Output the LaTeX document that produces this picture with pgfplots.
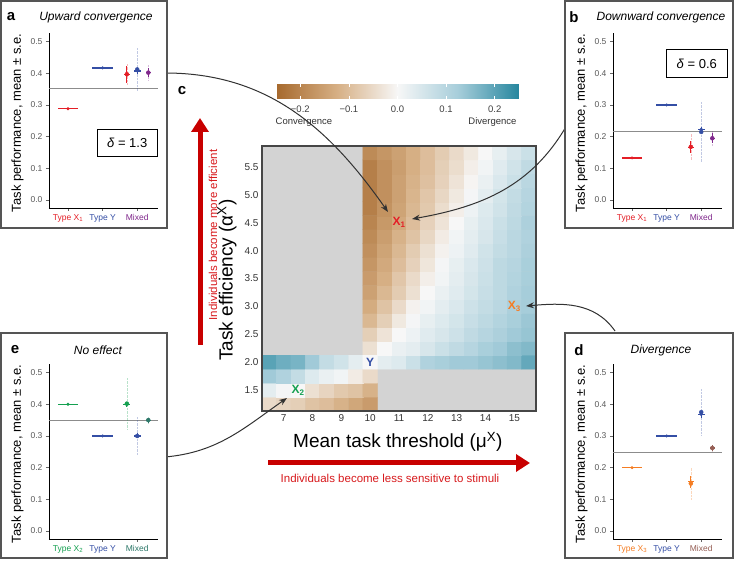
\documentclass[border=0pt]{standalone}
\usepackage{pgfplots}
\pgfplotsset{compat=1.18}
\usepackage{fontspec}
\setmainfont{Liberation Sans}
\usetikzlibrary{arrows.meta}

\definecolor{cX1}{RGB}{228,30,38}
\definecolor{cY}{RGB}{52,78,165}
\definecolor{cMa}{RGB}{128,40,140}
\definecolor{cX2}{RGB}{20,160,80}
\definecolor{cMe}{RGB}{45,120,105}
\definecolor{cX3}{RGB}{245,125,35}
\definecolor{cMd}{RGB}{150,95,85}
\definecolor{arrowred}{RGB}{200,0,0}
\definecolor{textred}{RGB}{215,25,28}
\definecolor{boxgray}{RGB}{85,85,85}
\definecolor{nagray}{RGB}{211,211,211}
\definecolor{framegray}{RGB}{70,70,70}
\definecolor{curvegray}{RGB}{50,50,50}

\newcommand{\fsz}[1]{\fontsize{#1}{#1}\selectfont}

\pgfplotsset{
  /pgf/number format/assume math mode=true,
  side/.style={
    scale only axis, width=109pt, height=175pt,
    xmin=0.45, xmax=3.6, ymin=-0.025, ymax=0.527,
    axis x line*=bottom, axis y line*=left,
    axis line style={line width=0.7pt, black},
    xtick={1,2,3}, ytick={0,0.1,0.2,0.3,0.4,0.5},
    yticklabel style={/pgf/number format/.cd, fixed, fixed zerofill, precision=1},
    ticklabel style={font=\fsz{8.5}, text=black!65},
    tick style={line width=0.6pt, black!60}, tick align=outside, major tick length=3pt,
    ylabel={Task performance, mean ± s.e.},
    ylabel style={font=\fsz{13}, at={(axis description cs:-0.29,0.486)}, anchor=center},
    clip=false,
  },
  refline/.style={black!45, line width=0.6pt},
  hbar/.style={only marks, mark=*, mark size=1.3pt,
    error bars/x dir=both, error bars/x explicit, error bars/error mark=none,
    error bars/error bar style={line width=1.4pt}},
  cloud/.style={only marks, mark=none,
    error bars/y dir=both, error bars/y explicit, error bars/error mark=none,
    error bars/error bar style={line width=0.7pt, opacity=0.3, dash pattern=on 0.7pt off 0.7pt}},
  mixpt/.style={only marks, mark=*, mark size=1.2pt,
    error bars/x dir=both, error bars/y dir=both, error bars/x explicit, error bars/y explicit,
    error bars/error mark=none, error bars/error bar style={line width=1.1pt}},
}

\begin{document}
\begin{tikzpicture}[x=1pt,y=1pt]
\useasboundingbox (0,0) rectangle (734,562);

% ---------------- Heatmap (c) ----------------
\begin{axis}[at={(262pt,151pt)}, anchor=south west, scale only axis, width=274pt, height=265pt,
  xmin=6.25, xmax=15.75, ymin=1.125, ymax=5.875,
  axis background/.style={fill=nagray},
  axis on top, axis line style={line width=1.6pt, draw=framegray},
  xtick={7,8,9,10,11,12,13,14,15}, ytick={1.5,2,2.5,3,3.5,4,4.5,5,5.5},
  tick style={draw=none},
  yticklabel style={/pgf/number format/.cd, fixed, fixed zerofill, precision=1},
  ticklabel style={font=\fsz{10}, text=black!80},
  xlabel={Mean task threshold (μ\textsuperscript{X})},
  ylabel={Task efficiency (α\textsuperscript{X})},
  label style={font=\fsz{19}},
  xlabel style={at={(axis description cs:0.496,-0.117)}, anchor=center},
  ylabel style={at={(axis description cs:-0.128,0.494)}, anchor=center},
  colormap={brbg}{rgb255=(166,105,45) rgb255=(214,175,132) rgb255=(247,247,247) rgb255=(166,205,218) rgb255=(38,134,158)},
  point meta min=-0.25, point meta max=0.25,
  colorbar horizontal,
  colorbar style={at={(parent axis.north west)}, anchor=south west, xshift=14pt, yshift=56pt,
    scale only axis, width=243pt, height=15pt,
    xtick={-0.2,-0.1,0,0.1,0.2}, xticklabels={−0.2,−0.1,0.0,0.1,0.2},
    axis line style={draw=none}, axis on top,
    tick align=inside, major tick length=3pt, xtick pos=both, xticklabel pos=lower,
    xtick style={draw=white, line width=0.8pt},
    xticklabel style={font=\fsz{9.5}, text=black!75, yshift=-4pt}},
]
\addplot[matrix plot*, mesh/cols=12, point meta=explicit] coordinates {
(10,2)[0] (10.5,2)[0.03] (11,2)[0.04] (11.5,2)[0.07] (12,2)[0.11] (12.5,2)[0.12] (13,2)[0.13] (13.5,2)[0.13] (14,2)[0.14] (14.5,2)[0.15] (15,2)[0.16] (15.5,2)[0.19]
(10,2.25)[-0.04] (10.5,2.25)[0] (11,2.25)[0.02] (11.5,2.25)[0.03] (12,2.25)[0.05] (12.5,2.25)[0.07] (13,2.25)[0.085] (13.5,2.25)[0.10] (14,2.25)[0.12] (14.5,2.25)[0.13] (15,2.25)[0.15] (15.5,2.25)[0.16]
(10,2.5)[-0.07] (10.5,2.5)[-0.035] (11,2.5)[0] (11.5,2.5)[0.015] (12,2.5)[0.035] (12.5,2.5)[0.05] (13,2.5)[0.065] (13.5,2.5)[0.085] (14,2.5)[0.10] (14.5,2.5)[0.115] (15,2.5)[0.13] (15.5,2.5)[0.14]
(10,2.75)[-0.11] (10.5,2.75)[-0.07] (11,2.75)[-0.025] (11.5,2.75)[0.005] (12,2.75)[0.025] (12.5,2.75)[0.04] (13,2.75)[0.055] (13.5,2.75)[0.075] (14,2.75)[0.09] (14.5,2.75)[0.105] (15,2.75)[0.12] (15.5,2.75)[0.135]
(10,3)[-0.13] (10.5,3)[-0.09] (11,3)[-0.05] (11.5,3)[-0.01] (12,3)[0.01] (12.5,3)[0.03] (13,3)[0.045] (13.5,3)[0.065] (14,3)[0.08] (14.5,3)[0.095] (15,3)[0.115] (15.5,3)[0.125]
(10,3.25)[-0.15] (10.5,3.25)[-0.11] (11,3.25)[-0.075] (11.5,3.25)[-0.04] (12,3.25)[0] (12.5,3.25)[0.02] (13,3.25)[0.035] (13.5,3.25)[0.055] (14,3.25)[0.075] (14.5,3.25)[0.09] (15,3.25)[0.11] (15.5,3.25)[0.125]
(10,3.5)[-0.16] (10.5,3.5)[-0.125] (11,3.5)[-0.085] (11.5,3.5)[-0.05] (12,3.5)[-0.015] (12.5,3.5)[0.01] (13,3.5)[0.03] (13.5,3.5)[0.05] (14,3.5)[0.07] (14.5,3.5)[0.09] (15,3.5)[0.105] (15.5,3.5)[0.12]
(10,3.75)[-0.17] (10.5,3.75)[-0.135] (11,3.75)[-0.10] (11.5,3.75)[-0.065] (12,3.75)[-0.03] (12.5,3.75)[0.005] (13,3.75)[0.025] (13.5,3.75)[0.045] (14,3.75)[0.065] (14.5,3.75)[0.09] (15,3.75)[0.10] (15.5,3.75)[0.12]
(10,4)[-0.18] (10.5,4)[-0.145] (11,4)[-0.11] (11.5,4)[-0.075] (12,4)[-0.04] (12.5,4)[-0.01] (13,4)[0.015] (13.5,4)[0.035] (14,4)[0.06] (14.5,4)[0.08] (15,4)[0.095] (15.5,4)[0.115]
(10,4.25)[-0.19] (10.5,4.25)[-0.155] (11,4.25)[-0.12] (11.5,4.25)[-0.09] (12,4.25)[-0.055] (12.5,4.25)[-0.02] (13,4.25)[0.01] (13.5,4.25)[0.03] (14,4.25)[0.05] (14.5,4.25)[0.075] (15,4.25)[0.095] (15.5,4.25)[0.11]
(10,4.5)[-0.20] (10.5,4.5)[-0.165] (11,4.5)[-0.135] (11.5,4.5)[-0.10] (12,4.5)[-0.065] (12.5,4.5)[-0.035] (13,4.5)[0] (13.5,4.5)[0.025] (14,4.5)[0.045] (14.5,4.5)[0.07] (15,4.5)[0.09] (15.5,4.5)[0.115]
(10,4.75)[-0.21] (10.5,4.75)[-0.175] (11,4.75)[-0.145] (11.5,4.75)[-0.11] (12,4.75)[-0.08] (12.5,4.75)[-0.045] (13,4.75)[-0.015] (13.5,4.75)[0.015] (14,4.75)[0.04] (14.5,4.75)[0.06] (15,4.75)[0.085] (15.5,4.75)[0.105]
(10,5)[-0.21] (10.5,5)[-0.18] (11,5)[-0.15] (11.5,5)[-0.115] (12,5)[-0.085] (12.5,5)[-0.055] (13,5)[-0.025] (13.5,5)[0.005] (14,5)[0.03] (14.5,5)[0.055] (15,5)[0.08] (15.5,5)[0.10]
(10,5.25)[-0.21] (10.5,5.25)[-0.18] (11,5.25)[-0.15] (11.5,5.25)[-0.12] (12,5.25)[-0.095] (12.5,5.25)[-0.065] (13,5.25)[-0.035] (13.5,5.25)[-0.005] (14,5.25)[0.02] (14.5,5.25)[0.045] (15,5.25)[0.07] (15.5,5.25)[0.095]
(10,5.5)[-0.21] (10.5,5.5)[-0.18] (11,5.5)[-0.155] (11.5,5.5)[-0.125] (12,5.5)[-0.10] (12.5,5.5)[-0.07] (13,5.5)[-0.045] (13.5,5.5)[-0.015] (14,5.5)[0.01] (14.5,5.5)[0.035] (15,5.5)[0.06] (15.5,5.5)[0.085]
(10,5.75)[-0.19] (10.5,5.75)[-0.17] (11,5.75)[-0.15] (11.5,5.75)[-0.125] (12,5.75)[-0.10] (12.5,5.75)[-0.075] (13,5.75)[-0.05] (13.5,5.75)[-0.025] (14,5.75)[0] (14.5,5.75)[0.025] (15,5.75)[0.05] (15.5,5.75)[0.07]
};
\addplot[matrix plot*, mesh/cols=8, point meta=explicit] coordinates {
(6.5,1.25)[-0.05] (7,1.25)[-0.06] (7.5,1.25)[-0.07] (8,1.25)[-0.09] (8.5,1.25)[-0.10] (9,1.25)[-0.12] (9.5,1.25)[-0.14] (10,1.25)[-0.16]
(6.5,1.5)[0.03] (7,1.5)[0.005] (7.5,1.5)[0] (8,1.5)[-0.04] (8.5,1.5)[-0.06] (9,1.5)[-0.08] (9.5,1.5)[-0.09] (10,1.5)[-0.12]
(6.5,1.75)[0.13] (7,1.75)[0.11] (7.5,1.75)[0.08] (8,1.75)[0.04] (8.5,1.75)[0.02] (9,1.75)[0.01] (9.5,1.75)[-0.02] (10,1.75)[-0.05]
(6.5,2)[0.20] (7,2)[0.18] (7.5,2)[0.17] (8,2)[0.13] (8.5,2)[0.08] (9,2)[0.06] (9.5,2)[0.03] (10,2)[0]
};
\node[font=\fsz{12}\bfseries, text=cX1] at (axis cs:11,4.5) {X\textsubscript{1}};
\node[font=\fsz{12}\bfseries, text=cX2] at (axis cs:7.5,1.5) {X\textsubscript{2}};
\node[font=\fsz{12}\bfseries, text=cX3] at (axis cs:15,3) {X\textsubscript{3}};
\node[font=\fsz{12}\bfseries, text=cY] at (axis cs:10,2) {Y};
\end{axis}

\node[font=\fsz{9.5}, text=black!80] at (304,440) {Convergence};
\node[font=\fsz{9.5}, text=black!80, anchor=east] at (520,440) {Divergence};
\node[font=\fsz{15}\bfseries] at (182,471) {c};

% curved arrows (after heatmap, boxes cover their starts)
\draw[curvegray, line width=1pt, -{Stealth[length=8pt, width=6pt]}] (165,489) to[out=0, in=125] (388,350);
\draw[curvegray, line width=1pt, -{Stealth[length=8pt, width=6pt]}] (567,437) to[out=240, in=10] (412,343);
\draw[curvegray, line width=1pt, -{Stealth[length=8pt, width=6pt]}] (615,231) to[out=125, in=5] (526,256);
\draw[curvegray, line width=1pt, -{Stealth[length=8pt, width=6pt]}] (165,105) to[out=5, in=215] (287,164);

% red arrows
\draw[arrowred, line width=5pt, -{Triangle[length=14pt, width=17pt]}] (200,217) -- (200,444);
\node[rotate=90, text=textred, font=\fsz{11.5}] at (213,327) {Individuals become more efficient};
\draw[arrowred, line width=5pt, -{Triangle[length=14pt, width=17pt]}] (268,99) -- (530,99);
\node[text=textred, font=\fsz{11.5}] at (390,84) {Individuals become less sensitive to stimuli};

% ---------------- Panel a ----------------
\draw[boxgray, line width=1.3pt, fill=white] (1,334) rectangle (167,561);
\node[font=\fsz{15}\bfseries] at (11,545) {a};
\node[font=\fsz{12}\itshape] at (96,545) {Upward convergence};
\begin{axis}[side, at={(49pt,354pt)}, anchor=south west,
  xticklabels={{\color{cX1}Type X\textsubscript{1}},{\color{cY}Type Y},{\color{cMa}Mixed}}]
\addplot[refline] coordinates {(0.45,0.352) (3.6,0.352)};
\addplot[cX1, hbar] coordinates {(1,0.288) +- (0.3,0)};
\addplot[cY, hbar] coordinates {(2,0.417) +- (0.3,0)};
\addplot[cX1, cloud] coordinates {(2.7,0.397) +- (0,0.035)};
\addplot[cY, cloud] coordinates {(3,0.412) +- (0,0.068)};
\addplot[cMa, cloud] coordinates {(3.32,0.402) +- (0,0.025)};
\addplot[cX1, mixpt] coordinates {(2.7,0.395) +- (0.08,0.027)};
\addplot[cY, mixpt] coordinates {(3,0.407) +- (0.1,0.01)};
\addplot[cMa, mixpt] coordinates {(3.32,0.402) +- (0.08,0.015)};
\node[draw=black, line width=0.9pt, minimum width=60pt, minimum height=27pt, font=\fsz{13}] at (axis cs:2.71,0.18) {\textit{δ} = 1.3};
\end{axis}

% ---------------- Panel b ----------------
\draw[boxgray, line width=1.3pt, fill=white] (565,334) rectangle (733,561);
\node[font=\fsz{15}\bfseries] at (574,545) {b};
\node[font=\fsz{12}\itshape] at (661,545) {Downward convergence};
\begin{axis}[side, at={(613pt,354pt)}, anchor=south west,
  xticklabels={{\color{cX1}Type X\textsubscript{1}},{\color{cY}Type Y},{\color{cMa}Mixed}}]
\addplot[refline] coordinates {(0.45,0.216) (3.6,0.216)};
\addplot[cX1, hbar] coordinates {(1,0.133) +- (0.3,0)};
\addplot[cY, hbar] coordinates {(2,0.300) +- (0.3,0)};
\addplot[cX1, cloud] coordinates {(2.7,0.168) +- (0,0.043)};
\addplot[cY, cloud] coordinates {(3,0.215) +- (0,0.095)};
\addplot[cMa, cloud] coordinates {(3.32,0.195) +- (0,0.025)};
\addplot[cX1, mixpt] coordinates {(2.7,0.167) +- (0.08,0.02)};
\addplot[cY, mixpt] coordinates {(3,0.224) +- (0.1,0.008)};
\addplot[cMa, mixpt] coordinates {(3.32,0.195) +- (0.08,0.015)};
\node[draw=black, line width=0.9pt, minimum width=61pt, minimum height=28pt, font=\fsz{13}] at (axis cs:2.87,0.43) {\textit{δ} = 0.6};
\end{axis}

% ---------------- Panel e ----------------
\draw[boxgray, line width=1.3pt, fill=white] (1,4) rectangle (167,229);
\node[font=\fsz{15}\bfseries] at (15,212) {e};
\node[font=\fsz{12}\itshape] at (98,212) {No effect};
\begin{axis}[side, at={(49pt,23pt)}, anchor=south west,
  xticklabels={{\color{cX2}Type X\textsubscript{2}},{\color{cY}Type Y},{\color{cMe}Mixed}}]
\addplot[refline] coordinates {(0.45,0.350) (3.6,0.350)};
\addplot[cX2, hbar] coordinates {(1,0.400) +- (0.3,0)};
\addplot[cY, hbar] coordinates {(2,0.300) +- (0.3,0)};
\addplot[cX2, cloud] coordinates {(2.7,0.402) +- (0,0.082)};
\addplot[cY, cloud] coordinates {(3,0.300) +- (0,0.06)};
\addplot[cMe, cloud] coordinates {(3.32,0.350) +- (0,0.012)};
\addplot[cX2, mixpt] coordinates {(2.7,0.400) +- (0.1,0.008)};
\addplot[cY, mixpt] coordinates {(3,0.300) +- (0.1,0.008)};
\addplot[cMe, mixpt] coordinates {(3.32,0.350) +- (0.08,0.008)};
\end{axis}

% ---------------- Panel d ----------------
\draw[boxgray, line width=1.3pt, fill=white] (565,4) rectangle (733,229);
\node[font=\fsz{15}\bfseries] at (579,212) {d};
\node[font=\fsz{12}\itshape] at (661,212) {Divergence};
\begin{axis}[side, at={(613pt,23pt)}, anchor=south west,
  xticklabels={{\color{cX3}Type X\textsubscript{3}},{\color{cY}Type Y},{\color{cMd}Mixed}}]
\addplot[refline] coordinates {(0.45,0.250) (3.6,0.250)};
\addplot[cX3, hbar] coordinates {(1,0.200) +- (0.3,0)};
\addplot[cY, hbar] coordinates {(2,0.300) +- (0.3,0)};
\addplot[cX3, cloud] coordinates {(2.7,0.150) +- (0,0.05)};
\addplot[cY, cloud] coordinates {(3,0.375) +- (0,0.075)};
\addplot[cMd, cloud] coordinates {(3.32,0.262) +- (0,0.012)};
\addplot[cX3, mixpt] coordinates {(2.7,0.155) +- (0.08,0.02)};
\addplot[cY, mixpt] coordinates {(3,0.367) +- (0.1,0.01)};
\addplot[cMd, mixpt] coordinates {(3.32,0.262) +- (0.08,0.01)};
\end{axis}
\end{tikzpicture}
\end{document}
